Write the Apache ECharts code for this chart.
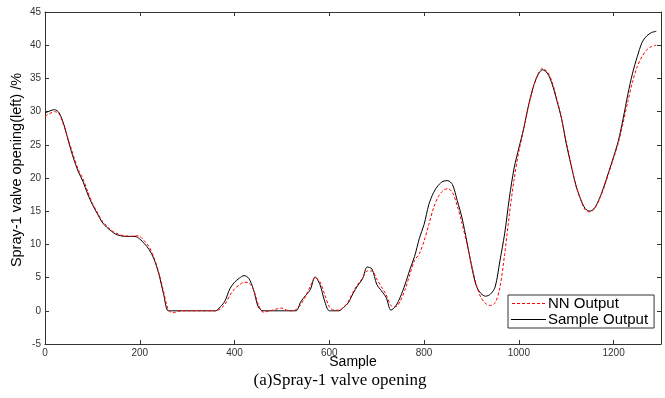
<!DOCTYPE html>
<html>
<head>
<meta charset="utf-8">
<script src="https://cdn.jsdelivr.net/npm/echarts@6/dist/echarts.min.js"></script>
<style>
  html, body { margin: 0; padding: 0; background: #fff; }
  #chart { width: 665px; height: 398px; }
</style>
</head>
<body>
<div id="chart"></div>
<script>
// sample index, step 10
const samples = [];
for (let i = 0; i <= 1290; i += 10) samples.push(i);

const sampleOutput = [
  29.8, 30.1, 30.3, 29.8, 28.0, 25.4, 23.0, 21.0, 19.5, 17.6,
  16.0, 14.7, 13.4, 12.6, 12.0, 11.5, 11.3, 11.2, 11.2, 11.2,
  10.8, 10.1, 9.2, 7.8, 5.6, 2.6, 0.0, 0.0, 0.0, 0.0,
  0.0, 0.0, 0.0, 0.0, 0.0, 0.0, 0.0, 0.6, 1.5, 3.3,
  4.3, 4.9, 5.3, 4.9, 3.2, 0.6, 0.0, 0.0, 0.0, 0.0,
  0.0, 0.0, 0.0, 0.0, 1.4, 2.3, 3.2, 5.1, 4.0, 1.5,
  0.0, 0.0, 0.0, 0.5, 1.2, 2.6, 3.8, 4.8, 6.6, 6.3,
  4.0, 3.0, 2.0, 0.1, 0.7, 2.1, 4.0, 6.2, 8.2, 10.9,
  13.0, 16.0, 17.8, 18.9, 19.5, 19.6, 19.0, 16.6, 14.0, 10.5,
  6.8, 3.8, 2.6, 2.2, 2.5, 3.6, 7.5, 11.6, 17.0, 21.5,
  24.5, 27.4, 30.8, 33.6, 35.5, 36.3, 35.8, 34.2, 31.7, 29.0,
  25.2, 22.0, 19.0, 16.9, 15.4, 15.0, 15.5, 16.9, 18.8, 21.0,
  23.2, 25.6, 28.9, 32.6, 35.8, 38.3, 40.4, 41.4, 41.9, 42.1
];

const nnOutput = [
  29.3, 29.7, 30.0, 29.6, 27.8, 25.6, 23.4, 21.3, 19.9, 18.0,
  16.2, 14.9, 13.6, 12.8, 12.1, 11.7, 11.4, 11.3, 11.2, 11.3,
  11.2, 10.5, 9.6, 8.0, 5.8, 3.0, 0.2, -0.3, -0.1, 0.0,
  0.0, 0.0, 0.0, 0.0, 0.0, 0.0, 0.0, 0.3, 1.0, 2.3,
  3.3, 3.9, 4.3, 4.2, 3.2, 1.0, -0.2, -0.1, 0.1, 0.3,
  0.4, 0.1, 0.0, 0.2, 1.0, 2.2, 3.7, 5.0, 4.4, 2.5,
  0.6, 0.1, 0.1, 0.5, 1.4, 2.8, 4.0, 4.9, 6.0, 6.0,
  4.8, 3.6, 2.4, 0.8, 0.6, 1.5, 3.2, 5.5, 7.6, 8.6,
  10.5, 13.0, 15.5, 17.2, 18.1, 18.4, 17.8, 15.8, 13.2, 10.2,
  7.0, 4.0, 2.0, 1.1, 0.8, 1.2, 3.5, 8.5, 14.5, 19.8,
  24.0, 27.2, 30.6, 33.5, 35.6, 36.5, 36.0, 34.5, 32.0, 29.0,
  25.5, 22.2, 19.0, 16.8, 15.2, 14.9, 15.4, 16.8, 18.6, 20.8,
  23.0, 25.3, 28.3, 31.5, 34.5, 36.8, 38.3, 39.3, 39.8, 40.0
];

const chart = echarts.init(document.getElementById("chart"));

// legend icons: thin line, dashed for NN
let dashIcon = "path://";
for (let x = 0; x <= 33; x += 5) dashIcon += "M" + x + ",0h3v1h-3z";
const solidIcon = "path://M0,0h36v1h-36z";

const frameLine = { show: true, onZero: false, lineStyle: { color: "#333", width: 1 } };
const tick = { show: true, inside: true, length: 4, lineStyle: { color: "#333" } };
const tickLabel = {
  color: "#333", fontSize: 10, fontFamily: "Arial, Liberation Sans",
  formatter: (v) => String(v)
};

const option = {
  animation: false,
  backgroundColor: "#fff",
  grid: { left: 45, right: 4, top: 12, bottom: 54 },
  legend: {
    left: 508,
    top: 295,
    orient: "vertical",
    itemGap: 1,
    itemWidth: 35,
    itemHeight: 1,
    padding: [1, 6, 1, 3],
    borderColor: "#333",
    borderWidth: 1,
    backgroundColor: "#fff",
    textStyle: {
      fontSize: 15, lineHeight: 15, color: "#000",
      fontFamily: "Arial, Liberation Sans", padding: [0, 0, 0, -3]
    },
    data: [
      { name: "NN Output", icon: dashIcon, itemStyle: { color: "#ff0000", borderWidth: 0, opacity: 1 } },
      { name: "Sample Output", icon: solidIcon, itemStyle: { color: "#000", borderWidth: 0 } }
    ]
  },
  xAxis: [
    {
      type: "value", min: 0, max: 1300, interval: 200,
      name: "Sample", nameLocation: "middle", nameGap: 11, nameMoveOverlap: false,
      nameTextStyle: { fontSize: 14, color: "#000", fontFamily: "Arial, Liberation Sans" },
      axisLine: frameLine, axisTick: tick,
      axisLabel: Object.assign({ margin: 4, showMaxLabel: false }, tickLabel),
      splitLine: { show: false }
    },
    {
      type: "value", min: 0, max: 1300, interval: 200, position: "top",
      axisLine: frameLine, axisTick: tick, axisLabel: { show: false }, splitLine: { show: false }
    }
  ],
  yAxis: [
    {
      type: "value", min: -5, max: 45, interval: 5,
      axisLine: frameLine, axisTick: tick,
      axisLabel: Object.assign({ margin: 4 }, tickLabel),
      splitLine: { show: false }
    },
    {
      type: "value", min: -5, max: 45, interval: 5, position: "right",
      axisLine: frameLine, axisTick: tick, axisLabel: { show: false }, splitLine: { show: false }
    }
  ],
  graphic: [
    {
      type: "text", x: 17, y: 170, rotation: Math.PI / 2,
      style: {
        text: "Spray-1 valve opening(left) /%", fill: "#000",
        font: "14.5px Arial, 'Liberation Sans'", align: "center", verticalAlign: "middle"
      }
    },
    {
      type: "text", x: 340, y: 381,
      style: {
        text: "(a)Spray-1 valve opening", fill: "#000",
        font: "17px 'Times New Roman', 'Liberation Serif'", align: "center", verticalAlign: "middle"
      }
    }
  ],
  series: [
    {
      name: "Sample Output", type: "line", showSymbol: false, smooth: 0.3,
      symbol: "none", itemStyle: { color: "#000" },
      data: samples.map((s, i) => [s, sampleOutput[i]]),
      lineStyle: { color: "#000", width: 1 }, z: 3
    },
    {
      name: "NN Output", type: "line", showSymbol: false, smooth: 0.3,
      symbol: "none", itemStyle: { color: "#ff0000" },
      data: samples.map((s, i) => [s, nnOutput[i]]),
      lineStyle: { color: "#ff0000", width: 1, type: [3, 2] }, z: 4
    }
  ]
};

chart.setOption(option);
</script>
</body>
</html>
